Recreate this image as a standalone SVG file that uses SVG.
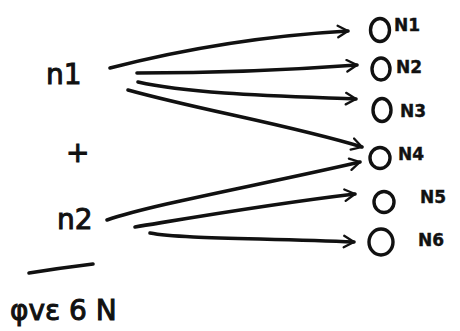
<svg xmlns="http://www.w3.org/2000/svg" width="460" height="331" viewBox="0 0 460 331">
<defs>
<style>
.ln{fill:none;stroke:#111;stroke-width:3.6;stroke-linecap:round;stroke-linejoin:round}
.c{fill:none;stroke:#111;stroke-width:3.4}
.t{font-family:"DejaVu Sans","Liberation Sans",sans-serif;fill:#111;stroke:#111;stroke-width:1}
.big{font-size:28px}
.lab{font-size:17px;font-weight:bold;stroke-width:0.4}
</style>
<marker id="ah" viewBox="0 0 10 10" refX="8" refY="5" markerWidth="4" markerHeight="4" orient="auto" markerUnits="strokeWidth">
<polyline points="1,1 8,5 1,9" fill="none" stroke="#111" stroke-width="1.6" stroke-linecap="round" stroke-linejoin="round"/>
</marker>
</defs>
<rect width="460" height="331" fill="#fff"/>
<g id="n1"><text class="t big" x="46" y="84">n1</text></g>
<g id="plus"><text class="t big" x="66" y="162">+</text></g>
<g id="n2"><text class="t big" x="57" y="229">n2</text></g>
<g id="total">
<path class="ln" d="M29,273 Q60,268 93,264"/>
<text class="t big" x="10" y="320">φvε 6 N</text>
</g>
<g id="N1"><ellipse class="c" cx="380" cy="30" rx="9.5" ry="11.5"/><text class="t lab" x="394" y="31">N1</text></g>
<g id="N2"><ellipse class="c" cx="381" cy="69" rx="9" ry="11"/><text class="t lab" x="396" y="73">N2</text></g>
<g id="N3"><ellipse class="c" cx="382" cy="110" rx="9" ry="11.5"/><text class="t lab" x="400" y="117">N3</text></g>
<g id="N4"><ellipse class="c" cx="380" cy="158" rx="10" ry="10.5"/><text class="t lab" x="398" y="160">N4</text></g>
<g id="N5"><ellipse class="c" cx="384" cy="202" rx="10" ry="10.5"/><text class="t lab" x="420" y="203">N5</text></g>
<g id="N6"><ellipse class="c" cx="381" cy="242" rx="12" ry="13"/><text class="t lab" x="418" y="246">N6</text></g>
<g id="connectors">
<path class="ln" marker-end="url(#ah)" d="M110,68 C180,50 260,36 348,31"/>
<path class="ln" marker-end="url(#ah)" d="M137,73 C210,73 290,70 357,65"/>
<path class="ln" marker-end="url(#ah)" d="M138,82 C190,94 280,96 356,99"/>
<path class="ln" marker-end="url(#ah)" d="M128,90 C200,110 290,125 362,147"/>
<path class="ln" marker-end="url(#ah)" d="M107,220 C150,205 260,185 360,162"/>
<path class="ln" marker-end="url(#ah)" d="M135,227 C190,218 270,204 355,194"/>
<path class="ln" marker-end="url(#ah)" d="M150,233 C180,239 270,238 354,242"/>
</g>
</svg>
